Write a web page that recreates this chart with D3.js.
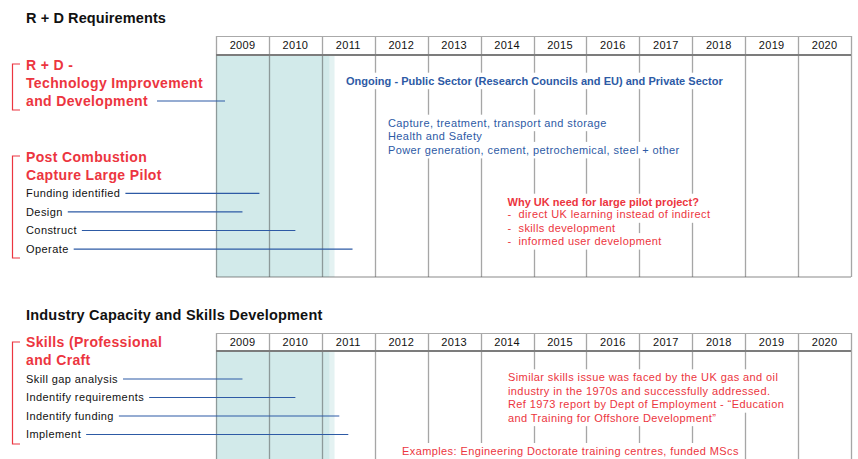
<!DOCTYPE html>
<html><head><meta charset="utf-8">
<script src="https://cdn.jsdelivr.net/npm/d3@7"></script>
<style>
body{margin:0;background:#fff}
svg{display:block}
text{font-family:"Liberation Sans",Arial,Helvetica,sans-serif}
</style>
</head><body>
<svg id="chart" width="858" height="459"></svg>
<script>
// ---------- data ----------
const years = [2009, 2010, 2011, 2012, 2013, 2014, 2015, 2016, 2017, 2018, 2019, 2020];

const section1Title = "R + D Requirements";
const rdTitle = ["R + D -", "Technology Improvement", "and Development"];
const rdEnds = [2009.17];

const pilotTitle = ["Post Combustion", "Capture Large Pilot"];
const pilotTasks = ["Funding identified", "Design", "Construct", "Operate"];
const pilotEnds = [2009.82, 2009.5, 2010.5, 2011.58];

const section2Title = "Industry Capacity and Skills Development";
const skillsTitle = ["Skills (Professional", "and Craft"];
const skillTasks = ["Skill gap analysis", "Indentify requirements", "Indentify funding", "Implement"];
const skillEnds = [2009.5, 2010.5, 2011.33, 2011.5];

const shadeEnd = 2011.15;
const shadeFadeEnd = 2011.24;

const rdNoteHead = ["Ongoing - Public Sector (Research Councils and EU) and Private Sector"];
const rdNotes = ["Capture, treatment, transport and storage", "Health and Safety",
  "Power generation, cement, petrochemical, steel + other"];
const pilotNoteHead = ["Why UK need for large pilot project?"];
const pilotNotes = ["-  direct UK learning instead of indirect", "-  skills development",
  "-  informed user development"];
const skillNotes = ["Similar skills issue was faced by the UK gas and oil",
  "industry in the 1970s and successfully addressed.",
  "Ref 1973 report by Dept of Employment - \u201cEducation",
  "and Training for Offshore Development\u201d"];
const skillExamples = ["Examples: Engineering Doctorate training centres, funded MScs"];

// ---------- styles ----------
const RED = "#ec3540", BLUE = "#2d5aa5", TEAL = "#d2eaea", TEAL2 = "#e4f2f2";

const svg = d3.select("#chart");
const x = d3.scaleLinear().domain([2009, 2021]).range([216, 851]);
const band = d3.scaleBand().domain(years).range([216, 851]);

const gridLayer = svg.append("g");
const bgLayer = svg.append("g");
const textLayer = svg.append("g");

function timeline(headTop, headBot, bodyBot) {
  const g = gridLayer.append("g");
  g.append("rect").attr("x", x(2009)).attr("y", headBot)
    .attr("width", x(shadeEnd) - x(2009)).attr("height", bodyBot - headBot).attr("fill", TEAL);
  g.append("rect").attr("x", x(shadeEnd)).attr("y", headBot)
    .attr("width", x(shadeFadeEnd) - x(shadeEnd)).attr("height", bodyBot - headBot).attr("fill", TEAL2);
  g.selectAll("line.v").data(d3.range(2009, 2022)).join("line")
    .attr("x1", d => Math.round(x(d)) + 0.5).attr("x2", d => Math.round(x(d)) + 0.5)
    .attr("y1", headTop).attr("y2", bodyBot)
    .attr("stroke", "#3a3a3a").attr("stroke-opacity", 0.45).attr("stroke-width", 1.3);
  g.append("line").attr("x1", x(2009)).attr("x2", x(2021)).attr("y1", headTop + 0.5).attr("y2", headTop + 0.5)
    .attr("stroke", "#aaa").attr("stroke-width", 1);
  g.append("line").attr("x1", x(2009)).attr("x2", x(2021)).attr("y1", headBot).attr("y2", headBot)
    .attr("stroke", "#7c7c7c").attr("stroke-width", 2);
  g.append("line").attr("x1", x(2009)).attr("x2", x(2021)).attr("y1", bodyBot).attr("y2", bodyBot)
    .attr("stroke", "#555").attr("stroke-opacity", 0.35).attr("stroke-width", 2);
  const ax = g.append("g").attr("transform", `translate(0,${(headTop + headBot) / 2})`)
    .call(d3.axisTop(band).tickSize(0).tickPadding(0).tickFormat(d3.format("d")));
  ax.select(".domain").remove();
  ax.selectAll("text").attr("y", 0).attr("dy", "0.36em")
    .style("font-family", '"Liberation Sans",Arial,sans-serif').style("font-size", "11px")
    .style("letter-spacing", "0.3px").attr("fill", "#111");
  return g;
}

function bracket(y1, y2) {
  textLayer.append("path").attr("d", `M20,${y1}H12.5V${y2}H20`).attr("fill", "none")
    .attr("stroke", RED).attr("stroke-width", 1.2);
}

function redTitle(lines, y0, step) {
  lines.forEach((t, i) => textLayer.append("text").attr("x", 26).attr("y", y0 + i * step).attr("dy", "0.36em")
    .attr("fill", RED).style("font-size", "14px").style("font-weight", "bold")
    .style("letter-spacing", "0.35px").text(t));
}

function tasks(labels, ends, y0, step) {
  labels.forEach((t, i) => {
    const y = y0 + i * step;
    const tx = textLayer.append("text").attr("x", 26).attr("y", y).attr("dy", "0.36em")
      .attr("fill", "#111").style("font-size", "11px").style("letter-spacing", "0.42px").text(t);
    const w = tx.node().getBBox().width;
    textLayer.append("line").attr("x1", 26 + w + 5).attr("x2", x(ends[i])).attr("y1", y).attr("y2", y)
      .attr("stroke", BLUE).attr("stroke-width", 1.2);
  });
}

function notes(lines, x0, y0, step, color, bold) {
  lines.forEach((t, i) => {
    const y = y0 + i * step;
    const bg = bgLayer.append("rect").attr("fill", "#fff");
    const tx = textLayer.append("text").attr("x", x0).attr("y", y).attr("dy", "0.36em")
      .attr("fill", color).style("font-size", "11px").style("font-weight", bold ? "bold" : "normal")
      .style("letter-spacing", bold ? "0.02px" : "0.4px")
      .attr("xml:space", "preserve").style("white-space", "pre").text(t);
    const w = tx.node().getBBox().width;
    bg.attr("x", x0 - 2).attr("y", y - 8).attr("width", w + 4).attr("height", 16.5);
  });
}

// ---------- section 1 ----------
textLayer.append("text").attr("x", 26).attr("y", 18).attr("dy", "0.36em").attr("fill", "#111")
  .style("font-size", "14.5px").style("font-weight", "bold").style("letter-spacing", "0.1px").text(section1Title);
timeline(36, 55, 277);
bracket(64, 110);
redTitle(rdTitle, 65, 17.8);
textLayer.append("line").attr("x1", 157).attr("x2", x(rdEnds[0])).attr("y1", 101).attr("y2", 101)
  .attr("stroke", BLUE).attr("stroke-width", 1.2);
bracket(156, 258);
redTitle(pilotTitle, 157, 17.5);
tasks(pilotTasks, pilotEnds, 193.3, 18.6);
notes(rdNoteHead, 346, 80.7, 13.4, BLUE, true);
notes(rdNotes, 388, 122.7, 13.6, BLUE, false);
notes(pilotNoteHead, 507.5, 201.7, 13.4, RED, true);
notes(pilotNotes, 507.5, 214.3, 13.4, RED, false);

// ---------- section 2 ----------
textLayer.append("text").attr("x", 26).attr("y", 315).attr("dy", "0.36em").attr("fill", "#111")
  .style("font-size", "14.5px").style("font-weight", "bold").style("letter-spacing", "0.2px").text(section2Title);
timeline(333, 351, 475);
bracket(342, 444);
redTitle(skillsTitle, 342, 17.6);
tasks(skillTasks, skillEnds, 379, 18.5);
notes(skillNotes, 508, 377.3, 13.45, RED, false);
notes(skillExamples, 402, 451, 13.4, RED, false);
</script>
</body></html>
